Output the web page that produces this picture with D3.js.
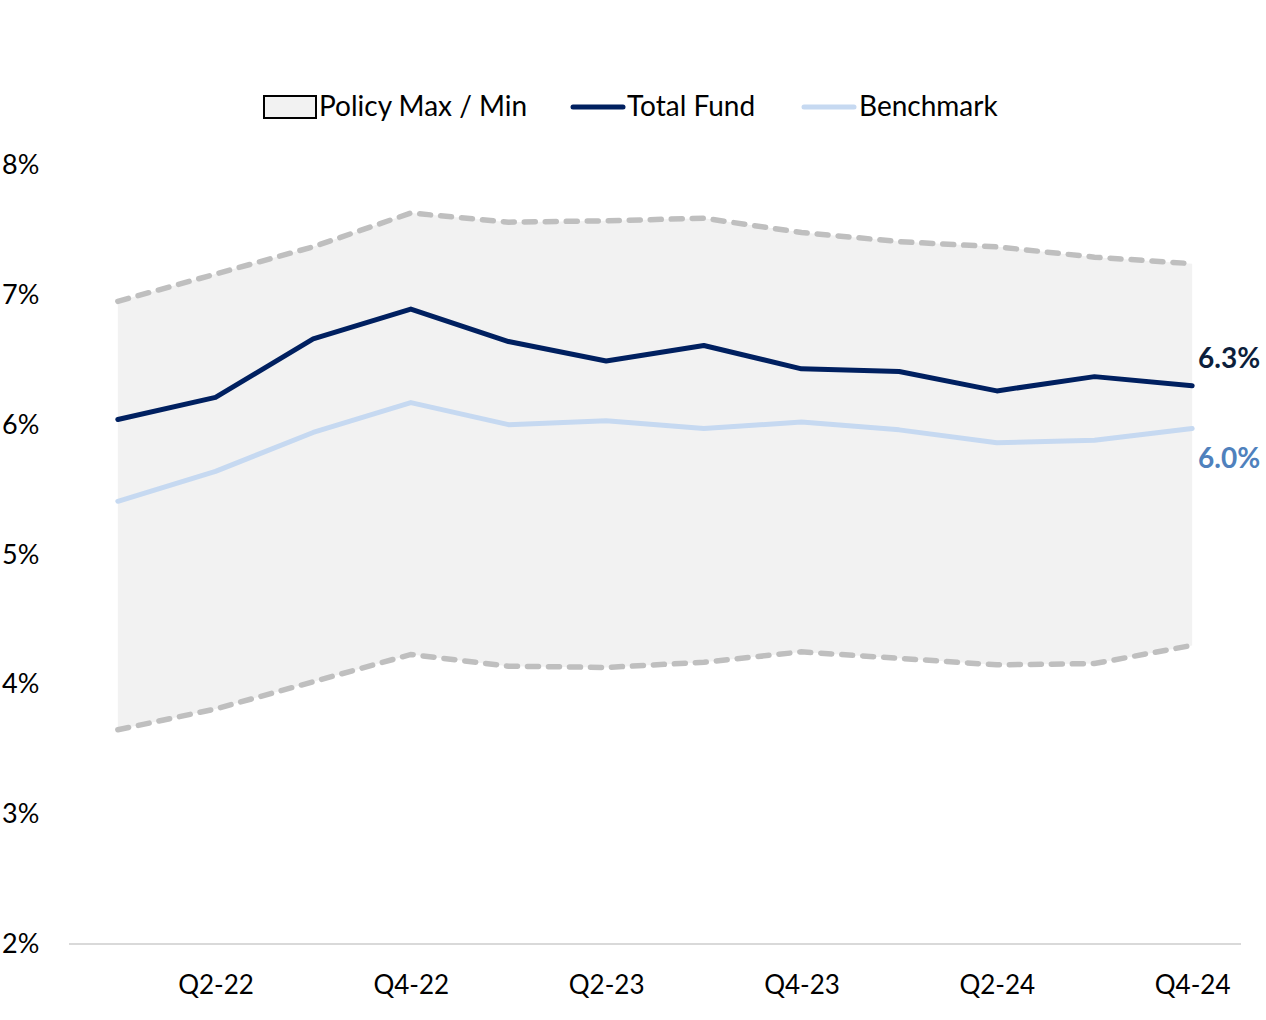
<!DOCTYPE html>
<html><head><meta charset="utf-8">
<script src="https://cdn.jsdelivr.net/npm/d3@7/dist/d3.min.js"></script>
<style>body{margin:0;background:#fff;}svg{display:block;font-family:Lato,"Open Sans",sans-serif;}</style>
</head><body>
<script>
const quarters = ["Q1-22","Q2-22","Q3-22","Q4-22","Q1-23","Q2-23","Q3-23","Q4-23","Q1-24","Q2-24","Q3-24","Q4-24"];
const totalFund = [6.04,6.21,6.66,6.89,6.64,6.49,6.61,6.43,6.41,6.26,6.37,6.30];
const benchmark = [5.41,5.64,5.94,6.17,6.00,6.03,5.97,6.02,5.96,5.86,5.88,5.97];
const policyMax = [6.95,7.16,7.37,7.63,7.56,7.57,7.59,7.48,7.41,7.37,7.29,7.24];
const policyMin = [3.65,3.81,4.02,4.23,4.14,4.13,4.17,4.25,4.20,4.15,4.16,4.30];
const yTicks = [2,3,4,5,6,7,8];
const endLabels = ["6.3%","6.0%"];

const W=1266,H=1020;
const svg=d3.select("body").append("svg").attr("width",W).attr("height",H);
const x=d3.scalePoint().domain(quarters).range([69,1241]).padding(0.5);
const y=d3.scaleLinear().domain([2,8]).range([944,165]);

const data=quarters.map((q,i)=>({q,tf:totalFund[i],bm:benchmark[i],mx:policyMax[i],mn:policyMin[i]}));
svg.append("path").datum(data)
  .attr("d",d3.area().x(d=>x(d.q)).y0(d=>y(d.mn)).y1(d=>y(d.mx)))
  .attr("fill","#f2f2f2");

svg.append("line").attr("x1",69).attr("x2",1241).attr("y1",y(2)).attr("y2",y(2))
  .attr("stroke","#d9d9d9").attr("stroke-width",2);

svg.selectAll(".yl").data(yTicks).enter().append("text")
  .attr("x",2).attr("y",d=>y(d)+9).attr("font-size",27).attr("fill","#000")
  .text(d=>d+"%");

const xAxis=d3.axisBottom(x).tickSize(0).tickValues(quarters.filter((q,i)=>i%2===1));
const gx=svg.append("g").attr("transform",`translate(0,${y(2)})`).call(xAxis);
gx.select(".domain").remove();
gx.selectAll("text").attr("font-size",26).attr("fill","#000").attr("dy","0").attr("y",50)
  .attr("font-family","Lato, 'Open Sans', sans-serif");

const line=acc=>d3.line().x(d=>x(d.q)).y(d=>y(acc(d)));
[d=>d.mx,d=>d.mn].forEach(acc=>{
  svg.append("path").datum(data).attr("d",line(acc)).attr("fill","none")
    .attr("stroke","#bfbfbf").attr("stroke-width",5.5).attr("stroke-dasharray","11,10").attr("stroke-linecap","round");
});
svg.append("path").datum(data).attr("d",line(d=>d.bm)).attr("fill","none")
  .attr("stroke","#c6d9f1").attr("stroke-width",5).attr("stroke-linecap","round").attr("stroke-linejoin","round");
svg.append("path").datum(data).attr("d",line(d=>d.tf)).attr("fill","none")
  .attr("stroke","#002060").attr("stroke-width",5).attr("stroke-linecap","round").attr("stroke-linejoin","round");

svg.append("text").attr("x",1198).attr("y",368).attr("font-size",28).attr("font-weight","bold")
  .attr("fill","#0d1f3c").text(endLabels[0]);
svg.append("text").attr("x",1198).attr("y",468).attr("font-size",28).attr("font-weight","bold")
  .attr("fill","#4f81bd").text(endLabels[1]);

const lg=svg.append("g").attr("font-size",28).attr("fill","#000");
lg.append("rect").attr("x",264).attr("y",96).attr("width",52).attr("height",22)
  .attr("fill","#f2f2f2").attr("stroke","#000").attr("stroke-width",2);
lg.append("text").attr("x",319).attr("y",116).text("Policy Max / Min");
lg.append("line").attr("x1",573).attr("x2",623).attr("y1",107).attr("y2",107)
  .attr("stroke","#002060").attr("stroke-width",5).attr("stroke-linecap","round");
lg.append("text").attr("x",627).attr("y",116).text("Total Fund");
lg.append("line").attr("x1",804).attr("x2",854).attr("y1",107).attr("y2",107)
  .attr("stroke","#c6d9f1").attr("stroke-width",5).attr("stroke-linecap","round");
lg.append("text").attr("x",859).attr("y",116).text("Benchmark");
</script>
</body></html>
